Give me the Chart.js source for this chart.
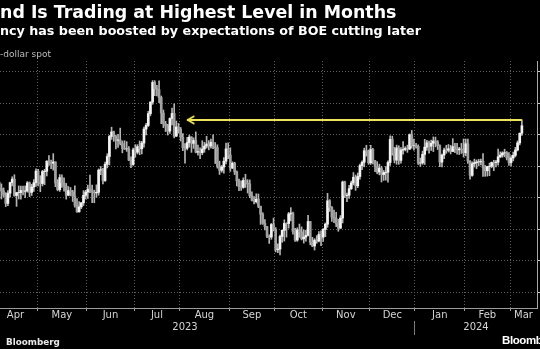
<!DOCTYPE html>
<html><head><meta charset="utf-8">
<script src="https://cdn.jsdelivr.net/npm/chart.js@4.4.1/dist/chart.umd.min.js"></script>
<style>
html,body{margin:0;padding:0;background:#000;width:540px;height:349px;overflow:hidden;}
body{position:relative;}
.t{position:absolute;white-space:nowrap;color:#fff;font-family:"DejaVu Sans",sans-serif;line-height:1;}
#c{position:absolute;left:-100px;top:0;}
</style></head><body>
<canvas id="c" width="697" height="349" style="width:697px;height:349px"></canvas>
<div class="t" style="left:0;top:4.3px;font-size:17.4px;font-weight:bold">nd Is Trading at Highest Level in Months</div>
<div class="t" style="left:0;top:24.8px;font-size:12.7px;font-weight:bold">ncy has been boosted by expectations of BOE cutting later</div>
<div class="t" style="left:0;top:50.4px;font-size:9px;color:#bdbdbd">-dollar spot</div>
<div class="t" style="left:6px;top:338px;font-size:8.8px;font-weight:bold;color:#e8e8e8">Bloomberg</div>
<div class="t" style="left:502px;top:335px;font-size:11.5px;font-weight:bold;letter-spacing:-0.4px;font-family:'Liberation Sans',sans-serif">Bloomberg</div>
<script>
// Month categories (weekday counts) from Mar 2023 to Mar 2024
const monthLabels   = ['Mar','Apr','May','Jun','Jul','Aug','Sep','Oct','Nov','Dec','Jan','Feb','Mar'];
const monthWeekdays = [23,20,23,22,21,23,21,22,22,21,23,21,21];
const yearLabels    = ['2023','2024'];
const yearFirstMonth = [0,10];
const yTicks = [1.18,1.20,1.22,1.24,1.26,1.28,1.30,1.32];

// GBP/USD daily candles, 2023-04-03 .. 2024-03-08 (weekdays)
const openP = [
1.2335,1.2418,1.2497,1.2460,1.2443,1.2418,1.2364,1.2429,1.2496,1.2518,1.2414,1.2432,1.2433,1.2447,1.2441,1.2443,1.2494,1.2434,1.2468,1.2495,
1.2569,1.2494,1.2490,1.2566,1.2568,1.2632,1.2621,1.2619,1.2627,1.2494,1.2451,1.2528,1.2494,1.2475,1.2416,1.2445,1.2438,1.2410,1.2352,1.2311,1.2342,1.2368,1.2415,
1.2436,1.2455,1.2449,1.2435,1.2431,1.2434,1.2575,1.2578,1.2509,1.2612,1.2662,1.2789,1.2818,1.2788,1.2764,1.2767,1.2744,1.2714,1.2710,1.2710,1.2639,1.2611,
1.2704,1.2689,1.2724,1.2711,1.2747,1.2836,1.2859,1.2934,1.3007,1.3132,1.3092,1.3086,1.3035,1.2938,1.2869,1.2857,1.2823,1.2903,1.2935,1.2791,1.2849,
1.2835,1.2784,1.2718,1.2714,1.2750,1.2785,1.2745,1.2763,1.2689,1.2693,1.2686,1.2709,1.2728,1.2741,1.2728,1.2752,1.2722,1.2718,1.2600,1.2574,1.2595,1.2632,1.2710,
1.2671,1.2588,1.2619,1.2563,1.2507,1.2470,1.2466,1.2510,1.2493,1.2487,1.2413,1.2383,1.2375,1.2391,1.2345,1.2295,1.2238,1.2216,1.2155,1.2150,1.2230,
1.2199,1.2070,1.2074,1.2154,1.2193,1.2237,1.2236,1.2297,1.2302,1.2185,1.2131,1.2196,1.2183,1.2139,1.2150,1.2161,1.2249,1.2118,1.2094,1.2131,1.2125,1.2167,
1.2150,1.2199,1.2232,1.2380,1.2339,1.2276,1.2270,1.2236,1.2207,1.2271,1.2500,1.2414,1.2416,1.2458,1.2494,1.2530,1.2476,1.2535,1.2604,1.2625,1.2698,1.2696,
1.2622,1.2706,1.2634,1.2597,1.2563,1.2588,1.2547,1.2560,1.2562,1.2624,1.2770,1.2683,1.2639,1.2716,1.2637,1.2703,1.2707,1.2713,1.2709,1.2800,1.2730,
1.2730,1.2726,1.2620,1.2621,1.2675,1.2721,1.2749,1.2727,1.2746,1.2760,1.2754,1.2731,1.2626,1.2671,1.2703,1.2701,1.2711,1.2694,1.2725,1.2709,1.2704,1.2710,1.2703,
1.2685,1.2743,1.2632,1.2542,1.2616,1.2622,1.2627,1.2628,1.2631,1.2591,1.2571,1.2598,1.2600,1.2624,1.2623,1.2626,1.2660,1.2671,1.2684,1.2686,1.2653,
1.2623,1.2652,1.2669,1.2703,1.2748,1.2809];
const highP = [
1.2423,1.2525,1.2504,1.2488,1.2462,1.2432,1.2446,1.2499,1.2533,1.2546,1.2435,1.2475,1.2474,1.2474,1.2475,1.2503,1.2500,1.2485,1.2515,1.2584,
1.2580,1.2540,1.2574,1.2580,1.2635,1.2668,1.2639,1.2680,1.2628,1.2515,1.2547,1.2545,1.2526,1.2491,1.2471,1.2465,1.2447,1.2475,1.2394,1.2375,1.2370,1.2445,1.2447,
1.2480,1.2544,1.2480,1.2448,1.2482,1.2583,1.2598,1.2587,1.2626,1.2679,1.2796,1.2848,1.2823,1.2798,1.2803,1.2842,1.2760,1.2762,1.2756,1.2725,1.2660,1.2715,
1.2737,1.2737,1.2760,1.2758,1.2849,1.2873,1.2949,1.3010,1.3144,1.3143,1.3114,1.3142,1.3046,1.2957,1.2885,1.2866,1.2908,1.2969,1.2996,1.2887,1.2872,
1.2846,1.2808,1.2744,1.2783,1.2798,1.2788,1.2780,1.2818,1.2735,1.2716,1.2762,1.2752,1.2790,1.2763,1.2772,1.2799,1.2750,1.2736,1.2632,1.2605,1.2655,1.2747,1.2748,
1.2717,1.2628,1.2625,1.2570,1.2518,1.2508,1.2526,1.2549,1.2515,1.2513,1.2437,1.2407,1.2425,1.2424,1.2347,1.2305,1.2262,1.2219,1.2165,1.2237,1.2271,
1.2210,1.2108,1.2163,1.2195,1.2260,1.2241,1.2307,1.2337,1.2309,1.2206,1.2209,1.2233,1.2215,1.2196,1.2193,1.2289,1.2250,1.2149,1.2140,1.2159,1.2185,1.2190,
1.2205,1.2240,1.2428,1.2388,1.2344,1.2322,1.2308,1.2263,1.2287,1.2506,1.2505,1.2430,1.2478,1.2506,1.2560,1.2544,1.2557,1.2614,1.2634,1.2715,1.2733,1.2703,
1.2733,1.2714,1.2637,1.2629,1.2613,1.2600,1.2573,1.2597,1.2634,1.2793,1.2791,1.2720,1.2734,1.2730,1.2719,1.2756,1.2724,1.2734,1.2805,1.2827,1.2772,
1.2745,1.2736,1.2652,1.2696,1.2771,1.2765,1.2759,1.2766,1.2786,1.2785,1.2763,1.2736,1.2677,1.2715,1.2733,1.2738,1.2733,1.2775,1.2746,1.2746,1.2720,1.2745,1.2773,
1.2773,1.2772,1.2636,1.2628,1.2645,1.2640,1.2644,1.2645,1.2681,1.2605,1.2600,1.2620,1.2627,1.2638,1.2638,1.2709,1.2691,1.2692,1.2708,1.2693,1.2686,
1.2667,1.2690,1.2720,1.2760,1.2812,1.2894];
const lowP = [
1.2275,1.2396,1.2437,1.2392,1.2405,1.2344,1.2350,1.2404,1.2475,1.2409,1.2345,1.2392,1.2391,1.2418,1.2401,1.2435,1.2407,1.2414,1.2440,1.2472,
1.2475,1.2438,1.2475,1.2483,1.2538,1.2605,1.2584,1.2575,1.2470,1.2444,1.2440,1.2466,1.2442,1.2391,1.2412,1.2412,1.2376,1.2340,1.2307,1.2308,1.2331,1.2351,1.2392,
1.2395,1.2432,1.2369,1.2368,1.2403,1.2416,1.2546,1.2487,1.2504,1.2589,1.2608,1.2770,1.2758,1.2710,1.2719,1.2735,1.2685,1.2706,1.2694,1.2635,1.2591,1.2605,
1.2657,1.2678,1.2673,1.2678,1.2721,1.2798,1.2852,1.2920,1.2993,1.3048,1.3046,1.3003,1.2870,1.2845,1.2820,1.2798,1.2809,1.2863,1.2780,1.2788,1.2810,
1.2760,1.2698,1.2620,1.2703,1.2721,1.2688,1.2713,1.2685,1.2670,1.2648,1.2673,1.2689,1.2715,1.2704,1.2714,1.2711,1.2617,1.2588,1.2548,1.2562,1.2556,1.2614,1.2648,
1.2567,1.2585,1.2547,1.2475,1.2445,1.2446,1.2460,1.2465,1.2430,1.2400,1.2379,1.2361,1.2366,1.2337,1.2231,1.2231,1.2196,1.2147,1.2110,1.2136,1.2189,
1.2056,1.2052,1.2037,1.2117,1.2125,1.2150,1.2207,1.2253,1.2168,1.2123,1.2123,1.2148,1.2132,1.2112,1.2124,1.2158,1.2101,1.2089,1.2068,1.2111,1.2120,1.2096,
1.2123,1.2153,1.2212,1.2313,1.2249,1.2242,1.2216,1.2187,1.2204,1.2240,1.2401,1.2375,1.2395,1.2452,1.2481,1.2447,1.2464,1.2518,1.2578,1.2596,1.2664,1.2612,
1.2611,1.2614,1.2566,1.2552,1.2545,1.2500,1.2510,1.2511,1.2499,1.2605,1.2670,1.2621,1.2612,1.2612,1.2620,1.2676,1.2697,1.2688,1.2705,1.2714,1.2702,
1.2715,1.2611,1.2598,1.2612,1.2611,1.2701,1.2683,1.2700,1.2693,1.2723,1.2706,1.2597,1.2596,1.2648,1.2682,1.2690,1.2678,1.2692,1.2686,1.2676,1.2674,1.2681,1.2658,
1.2666,1.2618,1.2518,1.2536,1.2595,1.2585,1.2602,1.2609,1.2535,1.2536,1.2537,1.2540,1.2590,1.2572,1.2595,1.2607,1.2654,1.2657,1.2660,1.2640,1.2605,
1.2601,1.2634,1.2659,1.2697,1.2735,1.2795];
const closeP = [
1.2418,1.2497,1.2460,1.2443,1.2418,1.2364,1.2429,1.2496,1.2518,1.2414,1.2432,1.2433,1.2447,1.2441,1.2443,1.2494,1.2434,1.2468,1.2495,1.2569,
1.2494,1.2490,1.2566,1.2568,1.2632,1.2621,1.2619,1.2627,1.2494,1.2451,1.2528,1.2494,1.2475,1.2416,1.2445,1.2438,1.2410,1.2352,1.2311,1.2342,1.2368,1.2415,1.2436,
1.2455,1.2449,1.2435,1.2431,1.2434,1.2575,1.2578,1.2509,1.2612,1.2662,1.2789,1.2818,1.2788,1.2764,1.2767,1.2744,1.2714,1.2710,1.2710,1.2639,1.2611,1.2704,
1.2689,1.2724,1.2711,1.2747,1.2836,1.2859,1.2934,1.3007,1.3132,1.3092,1.3086,1.3035,1.2938,1.2869,1.2857,1.2823,1.2903,1.2935,1.2791,1.2849,1.2835,
1.2784,1.2718,1.2714,1.2750,1.2785,1.2745,1.2763,1.2689,1.2693,1.2686,1.2709,1.2728,1.2741,1.2728,1.2752,1.2722,1.2718,1.2600,1.2574,1.2595,1.2632,1.2710,1.2671,
1.2588,1.2619,1.2563,1.2507,1.2470,1.2466,1.2510,1.2493,1.2487,1.2413,1.2383,1.2375,1.2391,1.2345,1.2295,1.2238,1.2216,1.2155,1.2150,1.2230,1.2199,
1.2070,1.2074,1.2154,1.2193,1.2237,1.2236,1.2297,1.2302,1.2185,1.2131,1.2196,1.2183,1.2139,1.2150,1.2161,1.2249,1.2118,1.2094,1.2131,1.2125,1.2167,1.2150,
1.2199,1.2232,1.2380,1.2339,1.2276,1.2270,1.2236,1.2207,1.2271,1.2500,1.2414,1.2416,1.2458,1.2494,1.2530,1.2476,1.2535,1.2604,1.2625,1.2698,1.2696,1.2622,
1.2706,1.2634,1.2597,1.2563,1.2588,1.2547,1.2560,1.2562,1.2624,1.2770,1.2683,1.2639,1.2716,1.2637,1.2703,1.2707,1.2713,1.2709,1.2800,1.2730,1.2730,
1.2726,1.2620,1.2621,1.2675,1.2721,1.2749,1.2727,1.2746,1.2760,1.2754,1.2731,1.2626,1.2671,1.2703,1.2701,1.2711,1.2694,1.2725,1.2709,1.2704,1.2710,1.2703,1.2685,
1.2743,1.2632,1.2542,1.2616,1.2622,1.2627,1.2628,1.2631,1.2591,1.2571,1.2598,1.2600,1.2624,1.2623,1.2626,1.2660,1.2671,1.2684,1.2686,1.2653,1.2623,
1.2652,1.2669,1.2703,1.2748,1.2809,1.2857];

// Annotation: yellow arrow at the latest high, pointing back to Aug 4, 2023
const arrowLevel = 1.2894;
const arrowFromIndex = 89;

// visible window in weekday units counted from 2023-03-01
const xMin = 5, xMax = 274.5;

const monthStart = [];
monthWeekdays.reduce((acc, n, k) => { monthStart[k] = acc; return acc + n; }, 0);
const monthEnd = monthStart.map((s, k) => s + monthWeekdays[k]);
const dataStart = monthStart[1];

const monthTicks = [];
monthLabels.forEach((lab, k) => {
  if (monthStart[k] >= xMin && monthStart[k] <= xMax) monthTicks.push({value: monthStart[k], boundary: true, text: ''});
  const a = Math.max(monthStart[k], xMin), b = Math.min(monthEnd[k], xMax);
  if (k > 0 && b > a) monthTicks.push({value: (a + b) / 2, boundary: false, text: lab});
});
monthTicks.sort((p, q) => p.value - q.value);

const yearTicks = [];
yearLabels.forEach((lab, j) => {
  const s = monthStart[yearFirstMonth[j]];
  const e = j + 1 < yearLabels.length ? monthStart[yearFirstMonth[j + 1]] : xMax;
  const a = Math.max(s, xMin), b = Math.min(e, xMax);
  if (j > 0) yearTicks.push({value: s, boundary: true, text: ''});
  yearTicks.push({value: (a + b) / 2, boundary: false, text: lab});
});
yearTicks.sort((p, q) => p.value - q.value);

const wickData = highP.map((h, i) => ({x: dataStart + i + 0.5, y: [lowP[i], h]}));
const bodyData = openP.map((o, i) => ({x: dataStart + i + 0.5, y: [o, closeP[i]]}));
const lastIdx = closeP.length - 1;
const arrowData = [
  {x: dataStart + arrowFromIndex + 0.5, y: arrowLevel},
  {x: dataStart + lastIdx + 0.5, y: arrowLevel}
];

const yellow = '#efe35c';
const chev = document.createElement('canvas');
chev.width = 16; chev.height = 10;
(function(){
  const g = chev.getContext('2d');
  g.strokeStyle = yellow; g.lineWidth = 2; g.lineCap = 'round'; g.lineJoin = 'round';
  g.beginPath(); g.moveTo(14.5, 1.5); g.lineTo(8.5, 5); g.lineTo(14.5, 8.5); g.stroke();
})();

const isUp = i => closeP[i] >= openP[i];
const tickFont = {family: 'DejaVu Sans', size: 10};
const gridCol = '#5e5e5e';

new Chart(document.getElementById('c'), {
  type: 'bar',
  data: {
    datasets: [
      {type: 'line', data: arrowData, borderColor: yellow, borderWidth: 2, order: 0,
       pointStyle: chev, pointRadius: [6, 0], pointHoverRadius: 0, fill: false, xAxisID: 'x', yAxisID: 'y'},
      {data: bodyData, barThickness: 2, grouped: false, borderWidth: 0, order: 1,
       backgroundColor: c => isUp(c.dataIndex) ? '#f4f4f4' : '#a2a2a2', xAxisID: 'x', yAxisID: 'y'},
      {data: wickData, barThickness: 1, grouped: false, borderWidth: 0, order: 2,
       backgroundColor: '#b4b4b4', xAxisID: 'x', yAxisID: 'y'}
    ]
  },
  options: {
    responsive: false, animation: false, events: [],
    layout: {padding: {left: 55, top: 61, right: 0, bottom: 0}},
    plugins: {legend: {display: false}, tooltip: {enabled: false}},
    scales: {
      x: {
        type: 'linear', position: 'bottom', min: xMin, max: xMax, offset: false, weight: 0,
        afterBuildTicks: s => { s.ticks = monthTicks.map(t => ({value: t.value, boundary: t.boundary})); },
        afterFit: s => { s.height = 13; },
        ticks: {autoSkip: false, maxRotation: 0, minRotation: 0, padding: -2, color: '#d4d4d4', font: tickFont,
                callback: (v, i) => monthTicks[i] ? monthTicks[i].text : ''},
        grid: {
          offset: false,
          color: c => (c.tick && c.tick.boundary) ? gridCol : 'rgba(0,0,0,0)',
          tickColor: c => (c.tick && c.tick.boundary) ? '#9a9a9a' : 'rgba(0,0,0,0)',
          tickLength: 3, lineWidth: 1
        },
        border: {display: true, color: '#9c9c9c', width: 1, dash: [1, 2]}
      },
      xYear: {
        type: 'linear', position: 'bottom', min: xMin, max: xMax, offset: false, weight: 1,
        afterBuildTicks: s => { s.ticks = yearTicks.map(t => ({value: t.value, boundary: t.boundary})); },
        afterFit: s => { s.height = 28; },
        ticks: {autoSkip: false, maxRotation: 0, minRotation: 0, padding: -13.5, color: '#d4d4d4', font: tickFont,
                callback: (v, i) => yearTicks[i] ? yearTicks[i].text : ''},
        grid: {offset: false, drawOnChartArea: false, tickLength: 14,
               tickColor: c => (c.tick && c.tick.boundary) ? '#7c7c7c' : 'rgba(0,0,0,0)'},
        border: {display: false}
      },
      y: {
        type: 'linear', position: 'right', min: 1.1700, max: 1.3268,
        afterBuildTicks: s => { s.ticks = yTicks.map(v => ({value: v})); },
        afterFit: s => { s.width = 60; },
        ticks: {color: '#d4d4d4', font: tickFont, padding: 4, callback: v => v.toFixed(2)},
        grid: {color: gridCol, tickColor: '#d0d0d0', tickLength: 4, lineWidth: 1},
        border: {display: true, color: '#a8a8a8', width: 1, dash: [1, 2]}
      }
    }
  }
});
</script>
</body></html>
